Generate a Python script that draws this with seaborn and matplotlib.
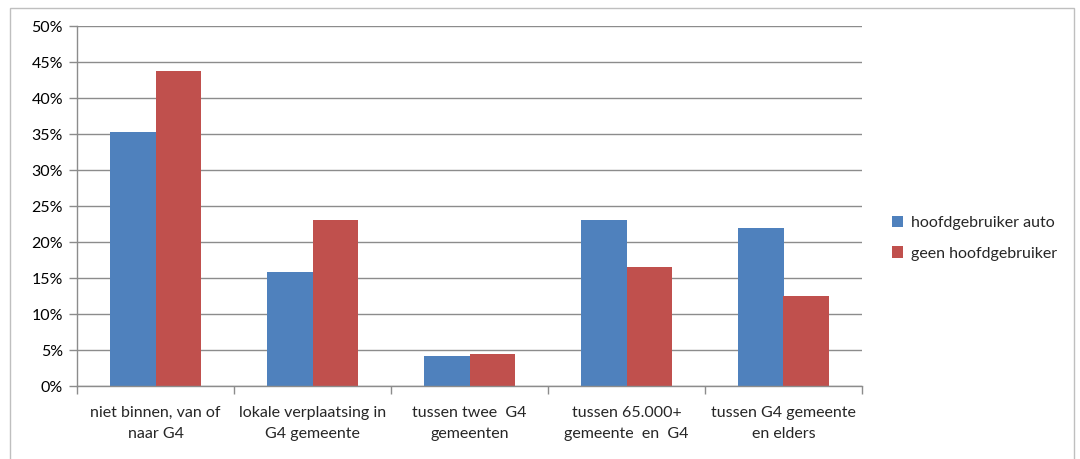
import matplotlib
matplotlib.use("Agg")
import matplotlib.pyplot as plt
import seaborn as sns
import pandas as pd
from matplotlib.patches import Rectangle
from matplotlib.ticker import FuncFormatter, MultipleLocator

categories = [
    "niet binnen, van of\nnaar G4",
    "lokale verplaatsing in\nG4 gemeente",
    "tussen twee  G4\ngemeenten",
    "tussen 65.000+\ngemeente  en  G4",
    "tussen G4 gemeente\nen elders",
]
series_names = ["hoofdgebruiker auto", "geen hoofdgebruiker"]
hoofdgebruiker = [35.3, 15.9, 4.1, 23.0, 21.9]
geen_hoofdgebruiker = [43.8, 23.0, 4.5, 16.5, 12.5]
colors = ["#4F81BD", "#C0504D"]

df = pd.DataFrame({
    "categorie": categories * 2,
    "groep": [series_names[0]] * 5 + [series_names[1]] * 5,
    "aandeel": hoofdgebruiker + geen_hoofdgebruiker,
})

sns.set_style("white")
plt.rcParams["font.family"] = ["Lato", "DejaVu Sans"]

fig = plt.figure(figsize=(10.8, 4.59), dpi=100)
ax = fig.add_axes([77 / 1080, 1 - 386 / 459, (862 - 77) / 1080, (386 - 26) / 459])

sns.barplot(data=df, x="categorie", y="aandeel", hue="groep",
            palette=colors, width=0.58, gap=0, ax=ax, legend=True,
            saturation=1, linewidth=0)

ax.set_xlim(-0.5, len(categories) - 0.5)
ax.set_ylim(0, 50)
ax.yaxis.set_major_locator(MultipleLocator(5))
ax.yaxis.set_major_formatter(FuncFormatter(lambda v, p: f"{int(round(v))}%"))
ax.grid(axis="y", color="#8c8c8c", linewidth=1.0)
ax.set_axisbelow(True)
ax.set_xlabel("")
ax.set_ylabel("")

for side in ["top", "right"]:
    ax.spines[side].set_visible(False)
for side in ["left", "bottom"]:
    ax.spines[side].set_color("#8c8c8c")
    ax.spines[side].set_linewidth(1.0)

ax.tick_params(axis="y", which="major", left=True, length=6, width=1,
               color="#8c8c8c", labelsize=11.5, labelcolor="#000000", pad=4)
# category labels centred, boundary ticks between categories
ax.set_xticks(range(len(categories)))
ax.set_xticklabels(categories, fontsize=11.5, linespacing=1.65)
ax.tick_params(axis="x", which="major", bottom=False, pad=11)
ax.set_xticks([i - 0.5 for i in range(len(categories) + 1)], minor=True)
ax.tick_params(axis="x", which="minor", bottom=True, length=6, width=1,
               color="#8c8c8c")

handles, labels = ax.get_legend_handles_labels()
ax.legend(handles, labels, loc="center left", bbox_to_anchor=(1.02, 0.41),
          frameon=False, fontsize=11.5, handlelength=0.7, handleheight=0.7,
          handletextpad=0.5, labelspacing=1.0)

fig.patches.append(Rectangle((10 / 1080, -0.01), (1074 - 10) / 1080,
                             1 - 8 / 459 + 0.01, transform=fig.transFigure,
                             fill=False, edgecolor="#bfbfbf", linewidth=1.0))

fig.savefig("out.png", dpi=100, facecolor="white")
